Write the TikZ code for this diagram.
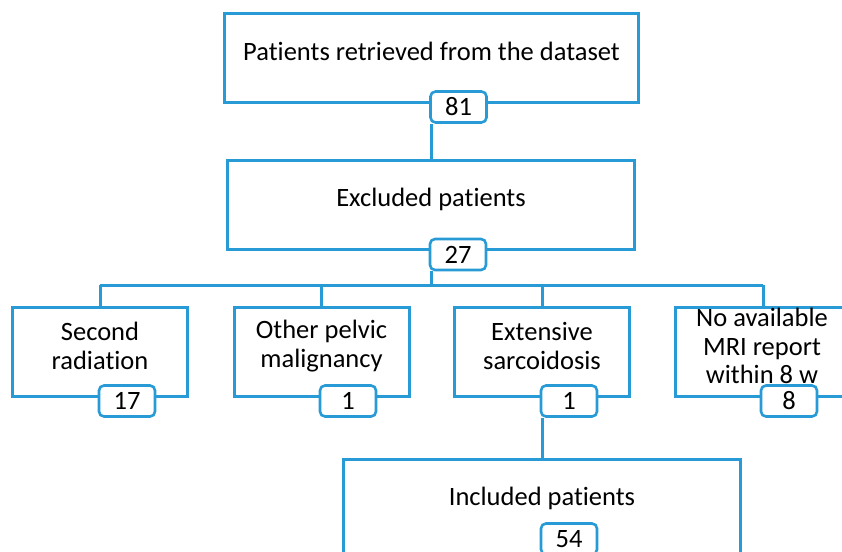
\documentclass[tikz,border=0pt]{standalone}
\usepackage{fontspec}
\setmainfont{Carlito}[Ligatures={NoCommon,NoRequired,NoContextual},Contextuals=NoAlternate]
\usetikzlibrary{backgrounds,calc}
\definecolor{flowblue}{RGB}{40,155,215}
\begin{document}
\begin{tikzpicture}[x=1pt,y=-1pt,
  flowbox/.style={draw=flowblue,line width=3pt,inner sep=0pt,minimum height=89pt},
  badge/.style={draw=flowblue,fill=white,line width=2.6pt,rounded corners=5pt,inner sep=0pt,minimum width=56pt,minimum height=31pt,font=\fontsize{26.5}{28.5}\selectfont},
  lbl/.style={font=\fontsize{26.5}{28.5}\selectfont,align=center,inner sep=0pt},
  conn/.style={draw=flowblue,line width=3pt}]
\useasboundingbox (0,0) rectangle (842,551);
% boxes
\node[flowbox,minimum width=414pt] (top) at (431.5,58) {};
\node[flowbox,minimum width=407pt] (excl) at (431,205) {};
\node[flowbox,minimum width=175pt] (c1) at (100,352) {};
\node[flowbox,minimum width=175pt] (c2) at (321.5,352) {};
\node[flowbox,minimum width=175pt] (c3) at (542,352) {};
\node[flowbox,minimum width=175pt] (c4) at (763,352) {};
\node[flowbox,minimum width=397pt,minimum height=103pt] (incl) at (542,511) {};
% labels
\node[lbl,anchor=base] (ttop) at (431.5,60) {Patients retrieved from the dataset};
\node[lbl,anchor=base] (texcl) at (431,206.5) {Excluded patients};
\node[lbl] (tc1) at (100,346) {Second\\radiation};
\node[lbl] (tc2) at (321.5,346) {Other pelvic\\malignancy};
\node[lbl] (tc3) at (542,346) {Extensive\\sarcoidosis};
\node[lbl] (tc4) at (762,346) {No available\\MRI report\\within 8 w};
\node[lbl,anchor=base] (tincl) at (542,505.5) {Included patients};
% badges
\node[badge] (b81) at (458.5,107) {81};
\node[badge] (b27) at (458,254.5) {27};
\node[badge] (b1) at (127,401) {17};
\node[badge] (b2) at (348,401) {1};
\node[badge] (b3) at (569,401) {1};
\node[badge] (b4) at (789,401) {8};
\node[badge] (b54) at (569,539) {54};
% connectors
\begin{scope}[on background layer]
\draw[conn] (excl.north) -- (excl.north |- b81.south);
\coordinate (hub) at ($(excl.south)+(0,34)$);
\draw[conn] (excl.south |- b27.south) -- (hub);
\draw[conn] (hub -| c1.north) -- (hub -| c4.north);
\draw[conn] (c1.north) -- (c1.north |- hub);
\draw[conn] (c2.north) -- (c2.north |- hub);
\draw[conn] (c3.north) -- (c3.north |- hub);
\draw[conn] (c4.north) -- (c4.north |- hub);
\draw[conn] (incl.north) -- (incl.north |- b3.south);
\end{scope}
\end{tikzpicture}
\end{document}
